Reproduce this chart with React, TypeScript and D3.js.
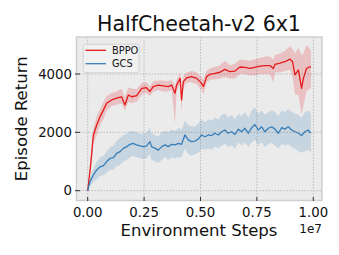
import React from "react";
import * as d3 from "d3";

const title = "HalfCheetah-v2 6x1";
const xTicks = [0, 0.25, 0.5, 0.75, 1.0];
const xTickLabels = ["0.00", "0.25", "0.50", "0.75", "1.00"];
const yTicks = [0, 2000, 4000];
const yTickLabels = ["0", "2000", "4000"];
const seriesNames = ["BPPO", "GCS"];
const seriesColors = ["#e41a1c", "#377eb8"];

const bppoX = [0, 0.013, 0.025, 0.04, 0.055, 0.07, 0.084, 0.106, 0.128, 0.15, 0.165, 0.18, 0.195, 0.217, 0.24, 0.26, 0.276, 0.29, 0.313, 0.335, 0.357, 0.372, 0.387, 0.394, 0.41, 0.416, 0.424, 0.439, 0.46, 0.483, 0.505, 0.513, 0.527, 0.542, 0.564, 0.586, 0.608, 0.63, 0.653, 0.675, 0.697, 0.72, 0.74, 0.764, 0.786, 0.808, 0.823, 0.83, 0.852, 0.874, 0.897, 0.908, 0.919, 0.934, 0.948, 0.956, 0.97, 0.985, 0.99];
const bppoMean = [0, 880, 1900, 2250, 2540, 2770, 3000, 3110, 3170, 3220, 2940, 3280, 3220, 3260, 3510, 3530, 3400, 3570, 3620, 3590, 3570, 3620, 3340, 3620, 3850, 3110, 3740, 3870, 3910, 3850, 3680, 3570, 3910, 3990, 4020, 4060, 4160, 4080, 4100, 4240, 4230, 4190, 4230, 4270, 4290, 4290, 4190, 4330, 4370, 4420, 4510, 4420, 3970, 4140, 3510, 3850, 4190, 4250, 4230];
const bppoLow = [0, 650, 1600, 1900, 2250, 2450, 2750, 2900, 2950, 3000, 2750, 3050, 3000, 3050, 3300, 3350, 3250, 3400, 3450, 3400, 3400, 3450, 2300, 3400, 3650, 2700, 3550, 3700, 3720, 3650, 3450, 3300, 3700, 3800, 3820, 3850, 3900, 3850, 3850, 4000, 4000, 3950, 3950, 4000, 4000, 4000, 3700, 4050, 4050, 4100, 4150, 3900, 3300, 3300, 2600, 2900, 3400, 3500, 3500];
const bppoHigh = [0, 1100, 2150, 2550, 2800, 3050, 3250, 3350, 3400, 3500, 3200, 3550, 3500, 3480, 3700, 3720, 3580, 3750, 3780, 3780, 3750, 3800, 3600, 3800, 4050, 3450, 3950, 4050, 4100, 4050, 3900, 3800, 4100, 4200, 4250, 4300, 4450, 4300, 4350, 4500, 4480, 4450, 4500, 4550, 4600, 4600, 4500, 4650, 4700, 4800, 4950, 4850, 4700, 4900, 4650, 4700, 5000, 4850, 4800];

const gcsX = [0, 0.01, 0.025, 0.04, 0.055, 0.07, 0.084, 0.1, 0.114, 0.128, 0.143, 0.158, 0.173, 0.188, 0.2, 0.217, 0.232, 0.247, 0.26, 0.276, 0.283, 0.3, 0.313, 0.328, 0.343, 0.357, 0.372, 0.387, 0.402, 0.416, 0.431, 0.446, 0.46, 0.475, 0.49, 0.505, 0.52, 0.535, 0.55, 0.564, 0.579, 0.594, 0.608, 0.623, 0.638, 0.653, 0.668, 0.682, 0.697, 0.712, 0.727, 0.741, 0.756, 0.771, 0.786, 0.8, 0.815, 0.83, 0.845, 0.86, 0.874, 0.889, 0.904, 0.919, 0.934, 0.948, 0.963, 0.978, 0.985, 0.99];
const gcsMean = [0, 310, 540, 710, 820, 860, 1000, 1110, 1130, 1280, 1340, 1450, 1510, 1590, 1620, 1570, 1540, 1510, 1530, 1680, 1510, 1450, 1390, 1510, 1570, 1510, 1590, 1570, 1620, 1590, 1910, 1740, 1680, 1700, 1770, 1910, 1850, 1910, 1890, 1970, 1910, 2020, 2080, 1970, 2020, 1930, 2110, 2020, 2140, 1970, 2160, 2270, 2080, 2190, 2020, 2140, 2190, 2110, 1970, 2160, 2110, 2190, 2080, 2020, 1970, 1890, 2020, 2080, 2000, 1990];
const gcsLow = [0, 150, 300, 400, 500, 520, 620, 720, 720, 850, 880, 1000, 1050, 1150, 1200, 1150, 1120, 1080, 1100, 1250, 1050, 1000, 950, 1050, 1150, 1050, 1150, 1100, 1150, 1150, 1450, 1250, 1200, 1250, 1300, 1450, 1400, 1450, 1400, 1500, 1450, 1550, 1600, 1500, 1550, 1450, 1650, 1550, 1650, 1500, 1650, 1750, 1550, 1650, 1500, 1600, 1650, 1550, 1450, 1600, 1550, 1600, 1500, 1450, 1350, 1300, 1350, 1400, 1350, 1300];
const gcsHigh = [0, 450, 750, 1000, 1150, 1200, 1350, 1500, 1550, 1700, 1800, 1900, 1950, 2050, 2050, 2000, 1950, 1950, 1980, 2150, 1950, 1900, 1850, 2000, 2050, 2000, 2100, 2050, 2150, 2100, 2400, 2250, 2200, 2200, 2300, 2450, 2350, 2450, 2400, 2500, 2450, 2600, 2650, 2500, 2600, 2450, 2650, 2550, 2700, 2500, 2750, 2850, 2650, 2750, 2600, 2700, 2750, 2700, 2550, 2750, 2700, 2800, 2700, 2650, 2600, 2500, 2700, 2750, 2700, 2650];

type Pt = { x: number; m: number; lo: number; hi: number };
const build = (xs: number[], m: number[], lo: number[], hi: number[]): Pt[] =>
  xs.map((x, i) => ({ x, m: m[i], lo: lo[i], hi: hi[i] }));

export default function App() {
  const W = 339, H = 255;
  const left = 76.5, right = 322, top = 37, bottom = 200.5;
  const x = d3.scaleLinear().domain([0, 1]).range([87.7, 313.3]);
  const y = d3.scaleLinear().domain([0, 4000]).range([190.7, 74.0]);
  const font = "DejaVu Sans, sans-serif";

  const series = [
    build(bppoX, bppoMean, bppoLow, bppoHigh),
    build(gcsX, gcsMean, gcsLow, gcsHigh),
  ];
  const area = d3.area<Pt>().x(d => x(d.x)).y0(d => y(d.lo)).y1(d => y(d.hi));
  const line = d3.line<Pt>().x(d => x(d.x)).y(d => y(d.m));

  return (
    <svg width={W} height={H} style={{ position: "absolute", left: 0, top: 0 }} fontFamily={font}>
      <rect x={0} y={0} width={W} height={H} fill="#ffffff" />
      <rect x={left} y={top} width={right - left} height={bottom - top} fill="#ebebeb" />
      {xTicks.map(t => (
        <line key={"gx" + t} x1={x(t)} x2={x(t)} y1={top} y2={bottom} stroke="#b0b0b0" strokeWidth={0.8} strokeDasharray="1.5,1.5" />
      ))}
      {yTicks.map(t => (
        <line key={"gy" + t} x1={left} x2={right} y1={y(t)} y2={y(t)} stroke="#b0b0b0" strokeWidth={0.8} strokeDasharray="1.5,1.5" />
      ))}
      {series.map((s, i) => (
        <path key={"a" + i} d={area(s) || ""} fill={seriesColors[i]} fillOpacity={0.2} stroke="none" />
      ))}
      {series.map((s, i) => (
        <path key={"l" + i} d={line(s) || ""} fill="none" stroke={seriesColors[i]} strokeWidth={1.3} strokeLinejoin="round" />
      ))}
      <rect x={left} y={top} width={right - left} height={bottom - top} fill="none" stroke="#cfcfcf" strokeWidth={1.5} />
      {xTicks.map((t, i) => (
        <g key={"tx" + t}>
          <line x1={x(t)} x2={x(t)} y1={197} y2={201} stroke="#333" strokeWidth={1} />
          <text x={x(t)} y={217} textAnchor="middle" fontSize={13.3} fill="#111">{xTickLabels[i]}</text>
        </g>
      ))}
      {yTicks.map((t, i) => (
        <g key={"ty" + t}>
          <line x1={75} x2={80} y1={y(t)} y2={y(t)} stroke="#333" strokeWidth={1} />
          <text x={72} y={y(t)} dy="0.35em" textAnchor="end" fontSize={13.3} fill="#111">{yTickLabels[i]}</text>
        </g>
      ))}
      <text x={322} y={233} textAnchor="end" fontSize={12} fill="#111">1e7</text>
      <text x={199} y={236} textAnchor="middle" fontSize={16.5} fill="#111">Environment Steps</text>
      <text transform={`translate(27,${(top + bottom) / 2}) rotate(-90)`} textAnchor="middle" fontSize={16.5} fill="#111">Episode Return</text>
      <text x={199} y={31} textAnchor="middle" fontSize={20.5} fill="#111">{title}</text>
      <rect x={83.3} y={44.3} width={55.7} height={28.4} rx={2.5} fill="#f2f2f2" fillOpacity={0.9} stroke="#cccccc" strokeWidth={0.8} />
      {seriesNames.map((n, i) => (
        <g key={"lg" + n}>
          <line x1={85.5} x2={106} y1={50.3 + i * 13.4} y2={50.3 + i * 13.4} stroke={seriesColors[i]} strokeWidth={1.3} />
          <text x={112} y={50.3 + i * 13.4} dy="0.35em" fontSize={9.8} fill="#111">{n}</text>
        </g>
      ))}
    </svg>
  );
}
